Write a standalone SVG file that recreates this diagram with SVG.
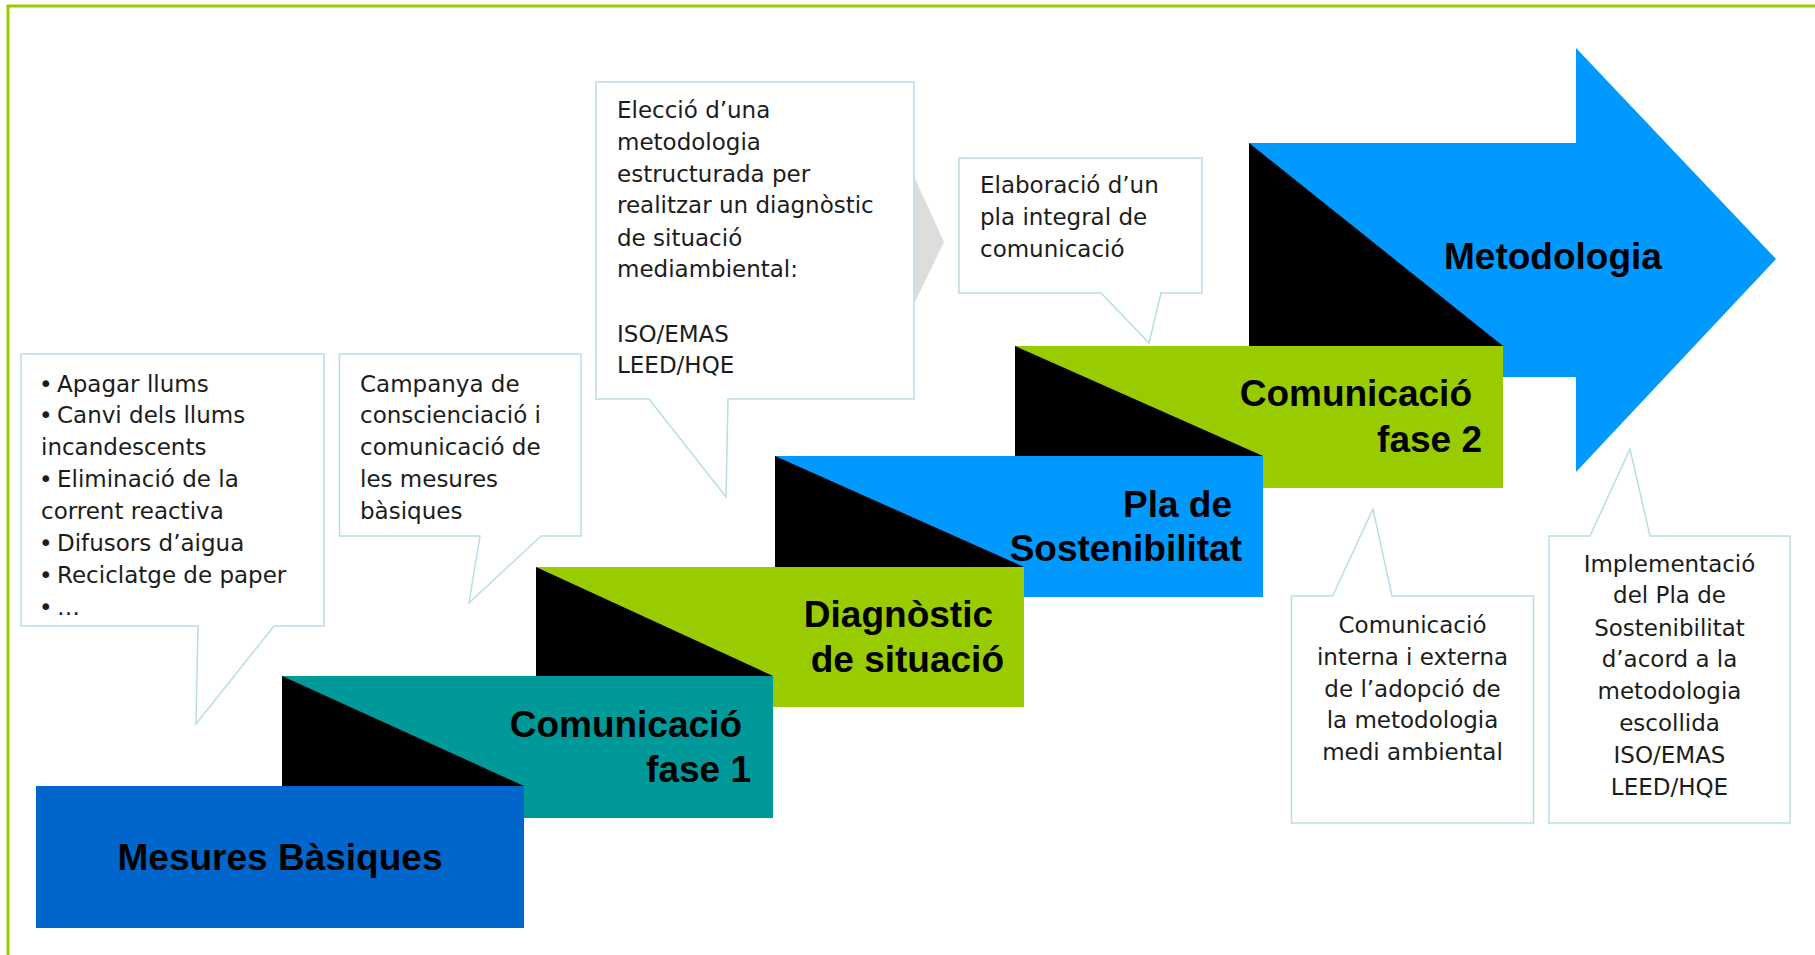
<svg xmlns="http://www.w3.org/2000/svg" width="1815" height="955" viewBox="0 0 1815 955">
<style>
.frame{stroke:#99CC00;stroke-width:3;fill:none}
.call{fill:#FFFFFF;stroke:#B9DDE5;stroke-width:1.5}
.ct{font-family:"DejaVu Sans","Liberation Sans",sans-serif;font-size:23px;fill:#1c1c1c}
.mid{text-anchor:middle}
.lbl{font-family:"Liberation Sans",Arial,sans-serif;font-weight:bold;font-size:37px;fill:#000}
.end{text-anchor:end}
.blk{fill:#000}
</style>
<rect width="1815" height="955" fill="#FFFFFF"/>
<g id="frame">
<line class="frame" x1="6.5" y1="6" x2="1815" y2="6"/>
<line class="frame" x1="8" y1="6" x2="8" y2="955"/>
</g>
<polygon id="chevron" points="912,172 944,242 912,308" fill="#DDDDDD"/>

<g id="metodologia">
<polygon points="1249,143 1576,143 1576,48 1776,259 1576,472 1576,377 1249,377" fill="#0099FF"/>
<polygon class="blk" points="1249,143 1503,346 1249,346"/>
<text class="lbl" x="1444" y="269">Metodologia</text>
</g>

<g id="fase2">
<rect x="1015" y="346" width="488" height="142" fill="#99CC00"/>
<polygon class="blk" points="1015,346 1263,456 1015,456"/>
<text class="lbl end" x="1472" y="406">Comunicació</text>
<text class="lbl end" x="1482" y="452">fase 2</text>
</g>

<g id="pla">
<rect x="775" y="456" width="488" height="141" fill="#0099FF"/>
<polygon class="blk" points="775,456 1024,567 775,567"/>
<text class="lbl end" x="1232" y="517">Pla de</text>
<text class="lbl end" x="1242" y="561">Sostenibilitat</text>
</g>

<g id="diagnostic">
<rect x="536" y="567" width="488" height="140" fill="#99CC00"/>
<polygon class="blk" points="536,567 773,676 536,676"/>
<text class="lbl end" x="993" y="627">Diagnòstic</text>
<text class="lbl end" x="1004" y="672">de situació</text>
</g>

<g id="fase1">
<rect x="282" y="676" width="491" height="142" fill="#009999"/>
<polygon class="blk" points="282,676 524,786 282,786"/>
<text class="lbl end" x="742" y="737">Comunicació</text>
<text class="lbl end" x="751" y="782">fase 1</text>
</g>

<g id="mesures">
<rect x="36" y="786" width="488" height="142" fill="#0066CC"/>
<text class="lbl mid" x="280" y="870">Mesures Bàsiques</text>
</g>

<g id="callout-mesures">
<path class="call" d="M21,354 H324 V626 H274 L196,724 L198,626 H21 Z"/>
<text class="ct" x="39" y="392">•</text><text class="ct" x="57" y="392">Apagar llums</text>
<text class="ct" x="39" y="423">•</text><text class="ct" x="57" y="423">Canvi dels llums</text>
<text class="ct" x="41" y="455">incandescents</text>
<text class="ct" x="39" y="487">•</text><text class="ct" x="57" y="487">Eliminació de la</text>
<text class="ct" x="41" y="519">corrent reactiva</text>
<text class="ct" x="39" y="551">•</text><text class="ct" x="57" y="551">Difusors d’aigua</text>
<text class="ct" x="39" y="583">•</text><text class="ct" x="57" y="583">Reciclatge de paper</text>
<text class="ct" x="39" y="615">•</text><text class="ct" x="57" y="615">…</text>
</g>

<g id="callout-campanya">
<path class="call" d="M339.5,354 H581 V536 H541 L469,603 L480,536 H339.5 Z"/>
<text class="ct" x="360" y="392">Campanya de</text>
<text class="ct" x="360" y="423">conscienciació i</text>
<text class="ct" x="360" y="455">comunicació de</text>
<text class="ct" x="360" y="487">les mesures</text>
<text class="ct" x="360" y="519">bàsiques</text>
</g>

<g id="callout-eleccio">
<path class="call" d="M596,82 H914 V399 H728 L726,497 L649,399 H596 Z"/>
<text class="ct" x="617" y="118">Elecció d’una</text>
<text class="ct" x="617" y="150">metodologia</text>
<text class="ct" x="617" y="182">estructurada per</text>
<text class="ct" x="617" y="213">realitzar un diagnòstic</text>
<text class="ct" x="617" y="246">de situació</text>
<text class="ct" x="617" y="277">mediambiental:</text>
<text class="ct" x="617" y="342">ISO/EMAS</text>
<text class="ct" x="617" y="373">LEED/HQE</text>
</g>

<g id="callout-elaboracio">
<path class="call" d="M959,158 H1202 V293 H1161 L1149,343 L1101,293 H959 Z"/>
<text class="ct" x="980" y="193">Elaboració d’un</text>
<text class="ct" x="980" y="225">pla integral de</text>
<text class="ct" x="980" y="257">comunicació</text>
</g>

<g id="callout-comunicacio">
<path class="call" d="M1291.5,596 H1332.6 L1373,509 L1392,596 H1533.5 V823 H1291.5 Z"/>
<text class="ct mid" x="1412.5" y="633">Comunicació</text>
<text class="ct mid" x="1412.5" y="665">interna i externa</text>
<text class="ct mid" x="1412.5" y="697">de l’adopció de</text>
<text class="ct mid" x="1412.5" y="728">la metodologia</text>
<text class="ct mid" x="1412.5" y="760">medi ambiental</text>
</g>

<g id="callout-implementacio">
<path class="call" d="M1549,536 H1590 L1630,449 L1650,536 H1790 V823 H1549 Z"/>
<text class="ct mid" x="1669.5" y="572">Implementació</text>
<text class="ct mid" x="1669.5" y="603">del Pla de</text>
<text class="ct mid" x="1669.5" y="636">Sostenibilitat</text>
<text class="ct mid" x="1669.5" y="667">d’acord a la</text>
<text class="ct mid" x="1669.5" y="699">metodologia</text>
<text class="ct mid" x="1669.5" y="731">escollida</text>
<text class="ct mid" x="1669.5" y="763">ISO/EMAS</text>
<text class="ct mid" x="1669.5" y="795">LEED/HQE</text>
</g>
</svg>
